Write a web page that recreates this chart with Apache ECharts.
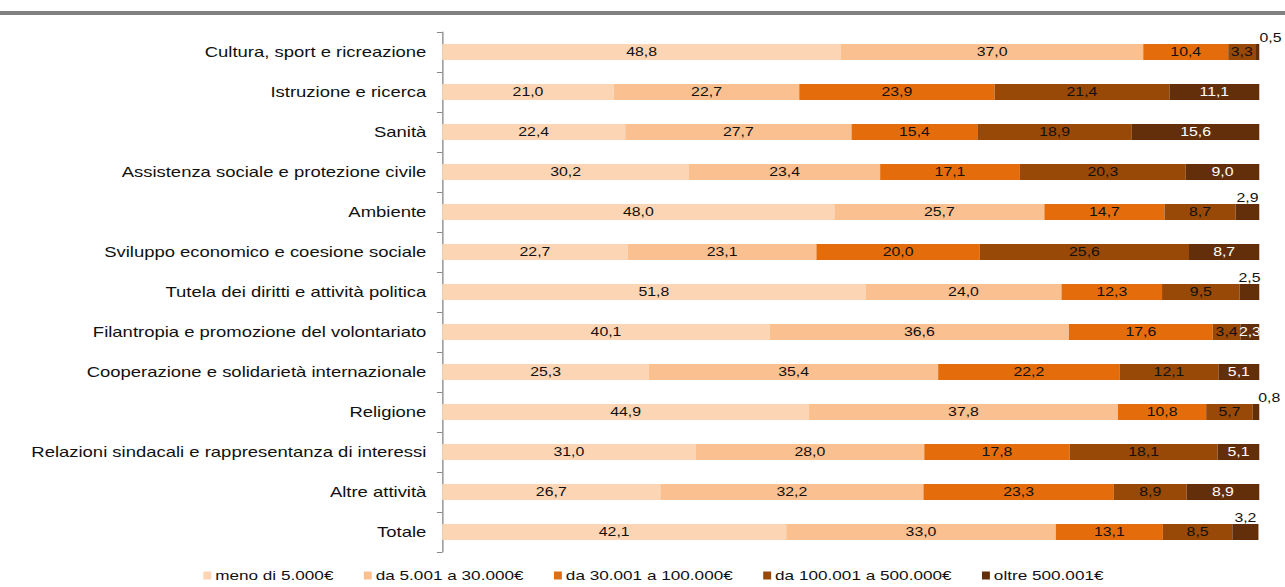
<!DOCTYPE html>
<html>
<head>
<meta charset="utf-8">
<script src="https://cdn.jsdelivr.net/npm/echarts@6/dist/echarts.min.js"></script>
<style>
  html, body { margin: 0; padding: 0; background: #fff; overflow: hidden; }
  /* the original chart is stretched horizontally, so the chart is laid out narrower and scaled */
  #chart { width: 973.5px; height: 587px; transform: scaleX(1.32); transform-origin: 0 0; }
</style>
</head>
<body>
<div id="chart"></div>
<script>
const categories = [
  'Cultura, sport e ricreazione',
  'Istruzione e ricerca',
  'Sanità',
  'Assistenza sociale e protezione civile',
  'Ambiente',
  'Sviluppo economico e coesione sociale',
  'Tutela dei diritti e attività politica',
  'Filantropia e promozione del volontariato',
  'Cooperazione e solidarietà internazionale',
  'Religione',
  'Relazioni sindacali e rappresentanza di interessi',
  'Altre attività',
  'Totale'
]

const seriesNames = [
  'meno di 5.000€',
  'da 5.001 a 30.000€',
  'da 30.001 a 100.000€',
  'da 100.001 a 500.000€',
  'oltre 500.001€'
]

const meno5000 = [48.8, 21.0, 22.4, 30.2, 48.0, 22.7, 51.8, 40.1, 25.3, 44.9, 31.0, 26.7, 42.1]
const da5001 = [37.0, 22.7, 27.7, 23.4, 25.7, 23.1, 24.0, 36.6, 35.4, 37.8, 28.0, 32.2, 33.0]
const da30001 = [10.4, 23.9, 15.4, 17.1, 14.7, 20.0, 12.3, 17.6, 22.2, 10.8, 17.8, 23.3, 13.1]
const da100001 = [3.3, 21.4, 18.9, 20.3, 8.7, 25.6, 9.5, 3.4, 12.1, 5.7, 18.1, 8.9, 8.5]
const oltre500001 = [0.5, 11.1, 15.6, 9.0, 2.9, 8.7, 2.5, 2.3, 5.1, 0.8, 5.1, 8.9, 3.2]

// rows whose last value is written above the bar
const labelAbove = [0, 4, 6, 9, 12]

const colors = ['#FCD5B5', '#FAC090', '#E46C0A', '#984807', '#632F0B']
const fmt = v => v.toFixed(1).replace('.', ',')

const chart = echarts.init(document.getElementById('chart'), null, { renderer: 'svg' })

const allData = [meno5000, da5001, da30001, da100001, oltre500001]

const series = allData.map((vals, si) => ({
  name: seriesNames[si],
  type: 'bar',
  stack: 'tot',
  barWidth: 16,
  itemStyle: { color: colors[si] },
  label: {
    show: true,
    position: 'inside',
    color: si === 4 ? '#fff' : '#111',
    fontSize: 12,
    formatter: p => fmt(p.value)
  },
  data: vals.map((v, i) => {
    if (si === 4 && labelAbove.includes(i)) {
      return {
        value: v,
        label: { position: 'top', distance: 0, color: '#111', offset: [v < 1 ? 10 : 0, 0] }
      }
    }
    return v
  })
}))

const option = {
  animation: false,
  textStyle: { fontFamily: 'Liberation Sans' },
  color: colors,
  graphic: [{
    type: 'rect',
    shape: { x: 0, y: 11, width: 980, height: 4 },
    style: { fill: '#808080' }
  }],
  grid: {
    left: 335,
    right: 20,
    top: 32,
    bottom: 35
  },
  legend: {
    top: 569,
    left: 154,
    padding: 0,
    itemWidth: 6,
    itemHeight: 8,
    itemGap: 23,
    icon: 'rect',
    textStyle: { fontSize: 13, color: '#111', padding: [0, 0, 0, -2] },
    data: seriesNames
  },
  xAxis: {
    type: 'value',
    min: 0,
    max: 100,
    show: false
  },
  yAxis: {
    type: 'category',
    inverse: true,
    data: categories,
    axisLine: { lineStyle: { color: '#888' } },
    axisTick: { show: true, length: 4, lineStyle: { color: '#888' } },
    axisLabel: { color: '#111', fontSize: 14, margin: 12 }
  },
  series: series
}

chart.setOption(option)
</script>
</body>
</html>
